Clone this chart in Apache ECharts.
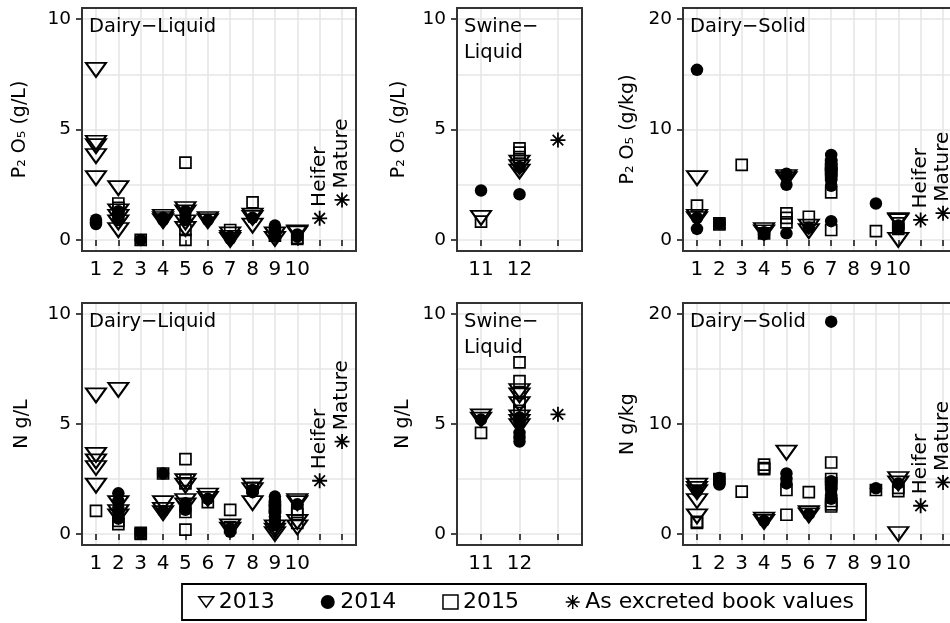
<!DOCTYPE html>
<html><head><meta charset="utf-8">
<script src="https://cdn.jsdelivr.net/npm/echarts@6/dist/echarts.min.js"></script>
<style>html,body{margin:0;padding:0;background:#fff}#c{width:950px;height:623px}</style>
</head><body><div id="c"></div>
<script>
const FONT = 'DejaVu Sans';
// ---- categories / ticks ----
const dairyTicks = [1,2,3,4,5,6,7,8,9,10,11,12];
const dairyLabels = [1,2,3,4,5,6,7,8,9,10];
const swineTicks = [11,12,13];
const swineLabels = [11,12];
const liquidTicks = [0,5,10];
const liquidMinor = [2.5,7.5];
const solidTicks = [0,10,20];
const solidMinor = [5,15];
const bookNames = ['Heifer','Mature'];
const legendNames = ['2013','2014','2015','As excreted book values'];

// ---- Panel 1: Dairy-Liquid, P2O5 (g/L) ----
const dlP2013 = [[1,7.7],[1,4.4],[1,4.25],[1,3.8],[1,2.8],[2,2.35],[2,1.3],[2,1.05],[2,0.8],[2,0.45],[4,1.05],[4,0.95],[4,0.85],[5,1.4],[5,1.25],[5,0.8],[5,0.5],[6,0.95],[6,0.85],[7,0.25],[7,0.1],[7,0.0],[8,1.1],[8,1.0],[8,0.65],[9,0.25],[9,0.05],[10,0.35],[10,0.3]];
const dlP2014 = [[1,0.92],[1,0.8],[1,0.72],[2,1.3],[2,1.15],[2,1.0],[2,0.9],[3,0.0],[4,1.0],[4,0.9],[5,1.3],[5,1.1],[5,0.9],[6,0.9],[7,0.15],[7,0.05],[8,1.0],[9,0.65],[9,0.5],[9,0.35],[9,0.2],[10,0.25],[10,0.15]];
const dlP2015 = [[2,1.65],[2,1.45],[3,0.0],[5,3.5],[5,0.45],[5,0.0],[7,0.45],[8,1.7],[9,0.2],[10,0.1],[10,0.05]];
const dlPBook = [0.98,1.81];

// ---- Panel 2: Swine-Liquid, P2O5 (g/L) ----
const slP2013 = [[11,1.0],[12,3.5],[12,3.3],[12,3.1]];
const slP2014 = [[11,2.24],[12,3.3],[12,2.07]];
const slP2015 = [[11,0.83],[12,4.15],[12,3.95],[12,3.75]];
const slPBook = [4.52];

// ---- Panel 3: Dairy-Solid, P2O5 (g/kg) ----
const dsP2013 = [[1,5.6],[1,2.1],[1,1.9],[4,0.9],[4,0.7],[5,5.7],[5,5.5],[6,1.2],[6,0.8],[10,1.8],[10,1.7],[10,0.0]];
const dsP2014 = [[1,15.4],[1,2.0],[1,1.0],[2,1.5],[4,0.7],[4,0.5],[5,6.0],[5,5.0],[5,0.6],[6,1.1],[7,7.7],[7,7.2],[7,6.4],[7,5.8],[7,5.4],[7,4.9],[7,1.7],[9,3.3],[10,1.3],[10,1.0]];
const dsP2015 = [[1,3.1],[2,1.5],[2,1.4],[3,6.8],[4,0.6],[5,2.4],[5,2.0],[5,1.6],[6,2.1],[7,6.8],[7,6.4],[7,6.0],[7,4.3],[7,0.9],[9,0.8],[10,1.5],[10,1.0]];
const dsPBook = [1.81,2.42];

// ---- Panel 4: Dairy-Liquid, N g/L ----
const dlN2013 = [[1,6.3],[1,3.6],[1,3.3],[1,3.0],[1,2.2],[2,6.55],[2,1.4],[2,1.0],[2,0.8],[4,1.4],[4,1.1],[4,0.95],[5,2.4],[5,2.2],[5,1.5],[5,1.3],[6,1.75],[6,1.6],[7,0.35],[7,0.2],[8,2.2],[8,2.0],[8,1.4],[9,0.3],[9,0.15],[9,0.0],[10,1.5],[10,1.4],[10,0.55],[10,0.3]];
const dlN2014 = [[2,1.85],[2,1.5],[2,1.2],[2,1.0],[2,0.7],[3,0.05],[4,2.75],[4,1.05],[5,1.4],[5,1.1],[6,1.6],[7,0.25],[7,0.1],[8,2.0],[8,1.9],[9,1.7],[9,1.5],[9,1.3],[9,1.0],[9,0.8],[9,0.6],[9,0.4],[10,1.35]];
const dlN2015 = [[1,1.05],[2,0.6],[2,0.45],[3,0.05],[3,0.0],[4,2.75],[5,3.4],[5,2.45],[5,2.3],[5,1.0],[5,0.2],[6,1.45],[7,1.1],[7,0.3],[8,2.1],[9,1.2],[10,1.1],[10,0.9],[10,0.5]];
const dlNBook = [2.42,4.2];

// ---- Panel 5: Swine-Liquid, N g/L ----
const slN2013 = [[11,5.35],[11,5.2],[12,6.5],[12,6.3],[12,5.9],[12,5.3],[12,5.1],[12,4.9]];
const slN2014 = [[11,5.2],[12,5.3],[12,5.0],[12,4.6],[12,4.4],[12,4.2]];
const slN2015 = [[11,4.6],[12,7.8],[12,6.95],[12,6.4],[12,6.0],[12,5.6]];
const slNBook = [5.44];

// ---- Panel 6: Dairy-Solid, N g/kg ----
const dsN2013 = [[1,4.4],[1,4.1],[1,3.8],[1,3.0],[1,1.6],[4,1.3],[4,1.1],[5,7.4],[6,1.9],[6,1.7],[10,5.0],[10,4.6],[10,0.0]];
const dsN2014 = [[1,3.9],[2,5.1],[2,4.8],[2,4.5],[4,1.2],[5,5.5],[5,5.0],[5,4.6],[6,1.8],[7,19.3],[7,4.8],[7,4.3],[7,4.0],[7,3.6],[7,3.2],[9,4.15],[10,4.6]];
const dsN2015 = [[1,1.1],[1,1.0],[2,5.0],[3,3.85],[4,6.3],[4,6.0],[4,5.9],[5,4.0],[5,1.75],[6,3.8],[7,6.5],[7,5.0],[7,4.6],[7,3.0],[7,2.7],[7,2.5],[9,4.0],[10,4.2],[10,3.9]];
const dsNBook = [2.57,4.69];

// ---- layout / styles ----
const X = {
  dairy: {min:0.375, max:12.625, ticks:dairyTicks, labels:dairyLabels},
  swine: {min:10.375, max:13.625, ticks:swineTicks, labels:swineLabels}
};
const Y = {
  liquid: {min:-0.5, max:10.5, ticks:liquidTicks, minor:liquidMinor},
  solid: {min:-1, max:21, ticks:solidTicks, minor:solidMinor}
};
const panels = [
  {grid:{left:82,top:8,width:274,height:243}, x:'dairy', y:'liquid', name:'P\u2082 O\u2085 (g/L)', gap:52, strip:'Dairy\u2212Liquid', d:[dlP2013,dlP2014,dlP2015], book:dlPBook},
  {grid:{left:457,top:8,width:125,height:243}, x:'swine', y:'liquid', name:'P\u2082 O\u2085 (g/L)', gap:48, strip:'Swine\u2212\nLiquid', d:[slP2013,slP2014,slP2015], book:slPBook},
  {grid:{left:683,top:8,width:274,height:243}, x:'dairy', y:'solid', name:'P\u2082 O\u2085 (g/kg)', gap:45, strip:'Dairy\u2212Solid', d:[dsP2013,dsP2014,dsP2015], book:dsPBook},
  {grid:{left:82,top:303,width:274,height:242}, x:'dairy', y:'liquid', name:'N g/L', gap:50, strip:'Dairy\u2212Liquid', d:[dlN2013,dlN2014,dlN2015], book:dlNBook},
  {grid:{left:457,top:303,width:125,height:242}, x:'swine', y:'liquid', name:'N g/L', gap:44, strip:'Swine\u2212\nLiquid', d:[slN2013,slN2014,slN2015], book:slNBook},
  {grid:{left:683,top:303,width:274,height:242}, x:'dairy', y:'solid', name:'N g/kg', gap:45, strip:'Dairy\u2212Solid', d:[dsN2013,dsN2014,dsN2015], book:dsNBook}
];

const triPath = 'path://M0,0 L20,0 L10,14 Z';
const starPath = 'path://M0,-10 L0,10 M-10,0 L10,0 M-7.07,-7.07 L7.07,7.07 M-7.07,7.07 L7.07,-7.07';
const CLEAR = 'rgba(0,0,0,0)';
const seriesStyles = [
  {symbol: triPath, symbolSize:[20,14], itemStyle:{color:CLEAR, borderColor:'#000', borderWidth:2, opacity:1}},
  {symbol: 'circle', symbolSize:12.5, itemStyle:{color:'#000', borderWidth:0, opacity:1}},
  {symbol: 'rect', symbolSize:11, itemStyle:{color:CLEAR, borderColor:'#000', borderWidth:1.7, opacity:1}},
  {symbol: starPath, symbolSize:15, itemStyle:{color:CLEAR, borderColor:'#000', borderWidth:1.8, opacity:1}}
];
const gridLine = {show:true, lineStyle:{color:'#e6e6e6', width:1.6}};

const grids = [], xAxes = [], yAxes = [], series = [], graphics = [];
panels.forEach((p, i) => {
  const xa = X[p.x], ya = Y[p.y];
  grids.push(Object.assign({show:true, borderColor:'#333', borderWidth:2, backgroundColor:CLEAR, z:5,
    containLabel:false, outerBoundsMode:'none'}, p.grid));
  xAxes.push({gridIndex:i, type:'value', min:xa.min, max:xa.max,
    axisLine:{show:false},
    axisTick:{show:true, customValues:xa.ticks, length:6, lineStyle:{color:'#333', width:1.8}},
    axisLabel:{customValues:xa.labels, margin:9, fontSize:20, color:'#000', fontFamily:FONT},
    splitLine:gridLine});
  yAxes.push({gridIndex:i, type:'value', min:ya.min, max:ya.max,
    axisLine:{show:false},
    axisTick:{show:true, customValues:ya.ticks, length:6, lineStyle:{color:'#333', width:1.8}},
    axisLabel:{customValues:ya.ticks, margin:11, fontSize:18.5, color:'#000', fontFamily:FONT},
    splitLine:gridLine,
    name:p.name, nameLocation:'middle', nameGap:p.gap,
    nameTextStyle:{fontSize:19, color:'#000', fontFamily:FONT}});
  yAxes.push({gridIndex:i, type:'value', min:ya.min, max:ya.max, position:'left',
    axisLine:{show:false}, axisTick:{show:false, customValues:ya.minor},
    axisLabel:{show:false}, splitLine:gridLine});
  const yIdx = yAxes.length - 2;
  p.d.forEach((arr, k) => {
    series.push(Object.assign({type:'scatter', name:legendNames[k], xAxisIndex:i, yAxisIndex:yIdx,
      data:arr, z:2, emphasis:{disabled:true}}, seriesStyles[k]));
  });
  let bookData;
  if (p.x === 'dairy') bookData = p.book.map((v, j) => ({value:[11 + j, v], name:bookNames[j]}));
  else bookData = p.book.map(v => ({value:[13, v], name:''}));
  series.push(Object.assign({type:'scatter', name:legendNames[3], xAxisIndex:i, yAxisIndex:yIdx, data:bookData, z:2,
    emphasis:{disabled:true},
    label:{show:true, formatter:'{b}', position:'top', distance:3, rotate:90, align:'left', verticalAlign:'middle',
      fontSize:20, color:'#000', fontFamily:FONT}}, seriesStyles[3]));
  graphics.push({type:'text', left:p.grid.left + 7, top:p.grid.top + 6, z:100,
    style:{text:p.strip, font:'19.5px "DejaVu Sans"', fill:'#000', lineHeight:26}});
});

const chart = echarts.init(document.getElementById('c'), null, {renderer:'canvas'});
chart.setOption({
  animation:false,
  backgroundColor:'#fff',
  grid:grids, xAxis:xAxes, yAxis:yAxes, series:series, graphic:graphics,
  legend:{left:182, top:584, orient:'horizontal', itemGap:46, itemWidth:15, itemHeight:14,
    padding:[7,12,7,16], borderColor:'#000', borderWidth:1.8, selectedMode:false,
    textStyle:{fontSize:22, fontFamily:FONT, color:'#000'},
    data:[
      {name:legendNames[0], icon:triPath, itemStyle:{color:CLEAR, borderColor:'#000', borderWidth:1.5}},
      {name:legendNames[1], icon:'circle', itemStyle:{color:'#000'}},
      {name:legendNames[2], icon:'rect', itemStyle:{color:CLEAR, borderColor:'#000', borderWidth:1.5}},
      {name:legendNames[3], icon:starPath, itemStyle:{color:CLEAR, borderColor:'#000', borderWidth:1.5}}
    ]}
});
</script></body></html>
